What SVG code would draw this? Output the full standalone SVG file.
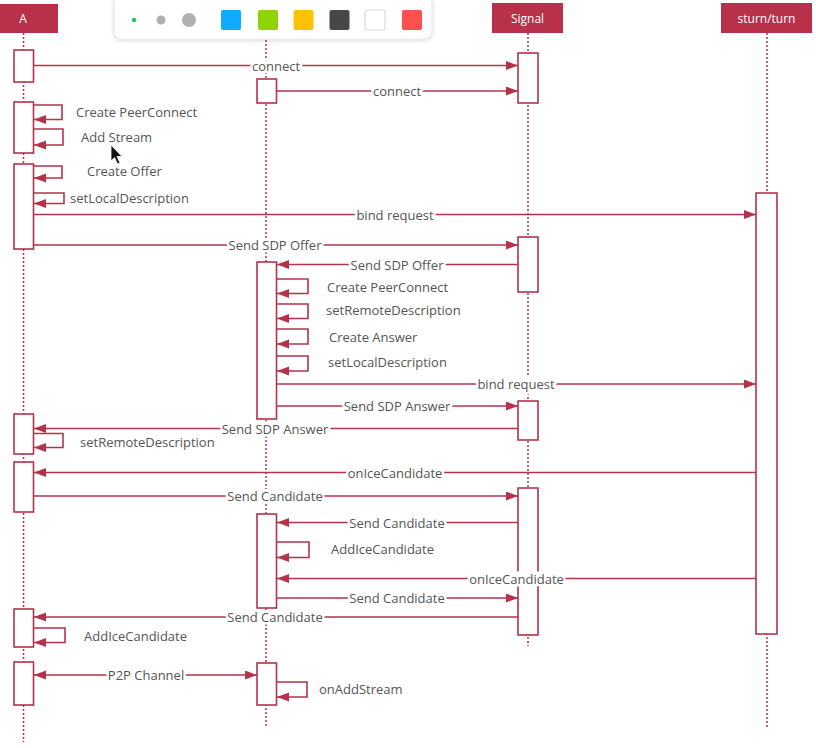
<svg xmlns="http://www.w3.org/2000/svg" width="816" height="748" viewBox="0 0 816 748">
<defs>
<marker id="ah" markerUnits="userSpaceOnUse" markerWidth="13" markerHeight="10" refX="12" refY="4.5" orient="auto">
<path d="M0,0 L12,4.5 L0,9 z" fill="#b3334b"/>
</marker>
<marker id="ahs" markerUnits="userSpaceOnUse" markerWidth="13" markerHeight="10" refX="12" refY="4.5" orient="auto-start-reverse">
<path d="M0,0 L12,4.5 L0,9 z" fill="#b3334b"/>
</marker>
<filter id="sh" x="-10%" y="-50%" width="120%" height="200%">
<feDropShadow dx="0" dy="1" stdDeviation="2" flood-color="#000" flood-opacity="0.15"/>
</filter>
</defs>
<style>
.hdr{fill:#b8304a}
.hdrt{fill:#fff;font-family:"Open Sans","Noto Sans",sans-serif;font-size:12px;text-anchor:middle}
.life{stroke:#b3334b;stroke-width:1.5;stroke-dasharray:2,2;fill:none}
.act{fill:#fff;stroke:#b3334b;stroke-width:1.6}
.msg{stroke:#b3334b;stroke-width:1.6;fill:none;marker-end:url(#ah)}
.bg{fill:#fff}
.lbl{font-family:"Open Sans","Noto Sans",sans-serif;font-size:13px;fill:#555;text-anchor:middle;dominant-baseline:central;paint-order:stroke;stroke:#fff;stroke-width:5px;stroke-linejoin:round}
.slbl{font-family:"Open Sans","Noto Sans",sans-serif;font-size:13px;fill:#555;dominant-baseline:central}
</style>
<rect width="816" height="748" fill="#fff"/>

<g id="A">
<rect class="hdr" x="-12" y="4" width="70" height="29"/>
<text class="hdrt" x="23" y="23">A</text>
<line class="life" x1="23.5" y1="33" x2="23.5" y2="742"/>
<rect class="act" x="14" y="50" width="19.5" height="32"/>
<rect class="act" x="14" y="102" width="19.5" height="51"/>
<rect class="act" x="14" y="164" width="19.5" height="85"/>
<rect class="act" x="14" y="414" width="19.5" height="40"/>
<rect class="act" x="14" y="462" width="19.5" height="50"/>
<rect class="act" x="14" y="609" width="19.5" height="38"/>
<rect class="act" x="14" y="662" width="19.5" height="43"/>
</g>

<g id="B">
<line class="life" x1="266" y1="36" x2="266" y2="728"/>
<rect class="act" x="257" y="79" width="19.5" height="24"/>
<rect class="act" x="257" y="262" width="19.5" height="157"/>
<rect class="act" x="257" y="514" width="19.5" height="94"/>
<rect class="act" x="257" y="663" width="19.5" height="42"/>
</g>

<g id="Signal">
<rect class="hdr" x="492" y="3" width="71" height="30"/>
<text class="hdrt" x="527.5" y="23">Signal</text>
<line class="life" x1="528" y1="33" x2="528" y2="646"/>
<rect class="act" x="518" y="53" width="20" height="50"/>
<rect class="act" x="518" y="237" width="20" height="55"/>
<rect class="act" x="518" y="401" width="20" height="39"/>
<rect class="act" x="518" y="488" width="20" height="147"/>
</g>

<g id="sturn-turn">
<rect class="hdr" x="721" y="3" width="91" height="30"/>
<text class="hdrt" x="766.5" y="23">sturn/turn</text>
<line class="life" x1="767" y1="33" x2="767" y2="727"/>
<rect class="act" x="756" y="193" width="21" height="441"/>
</g>

<g id="connectors">
<line class="msg" x1="33.5" y1="65.5" x2="518" y2="65.5"/>
<rect class="bg" x="251" y="58.5" width="50" height="14"/>
<text class="lbl" x="276" y="65.5">connect</text>
<line class="msg" x1="276.5" y1="91" x2="518" y2="91"/>
<rect class="bg" x="372" y="84" width="50" height="14"/>
<text class="lbl" x="397" y="91">connect</text>

<path class="msg" d="M33.5,105 H62 V119.5 H34"/>
<text class="slbl" x="76" y="112">Create PeerConnect</text>
<path class="msg" d="M33.5,129 H63 V145 H34"/>
<text class="slbl" x="81" y="137">Add Stream</text>
<path class="msg" d="M33.5,166 H62 V178 H34"/>
<text class="slbl" x="87" y="171">Create Offer</text>
<path class="msg" d="M33.5,193 H64 V203.5 H34"/>
<text class="slbl" x="70" y="198">setLocalDescription</text>

<line class="msg" x1="33.5" y1="214.5" x2="756" y2="214.5"/>
<rect class="bg" x="356" y="207.5" width="78" height="14"/>
<text class="lbl" x="395" y="214.5">bind request</text>
<line class="msg" x1="33.5" y1="245" x2="518" y2="245"/>
<rect class="bg" x="228" y="238" width="94" height="14"/>
<text class="lbl" x="275" y="245">Send SDP Offer</text>
<line class="msg" x1="518" y1="264.5" x2="277" y2="264.5"/>
<rect class="bg" x="350" y="257.5" width="94" height="14"/>
<text class="lbl" x="397" y="264.5">Send SDP Offer</text>

<path class="msg" d="M276.5,279 H308 V293.5 H277"/>
<text class="slbl" x="327" y="286.5">Create PeerConnect</text>
<path class="msg" d="M276.5,304 H308 V318.5 H277"/>
<text class="slbl" x="326" y="310">setRemoteDescription</text>
<path class="msg" d="M276.5,329 H308 V344 H277"/>
<text class="slbl" x="329" y="337">Create Answer</text>
<path class="msg" d="M276.5,356 H308 V371 H277"/>
<text class="slbl" x="328" y="362">setLocalDescription</text>

<line class="msg" x1="276.5" y1="384" x2="756" y2="384"/>
<rect class="bg" x="477" y="377" width="78" height="14"/>
<text class="lbl" x="516" y="384">bind request</text>
<line class="msg" x1="276.5" y1="406" x2="518" y2="406"/>
<rect class="bg" x="343" y="399" width="108" height="14"/>
<text class="lbl" x="397" y="406">Send SDP Answer</text>
<line class="msg" x1="518" y1="428.5" x2="34" y2="428.5"/>
<rect class="bg" x="221" y="421.5" width="108" height="14"/>
<text class="lbl" x="275" y="428.5">Send SDP Answer</text>
<path class="msg" d="M33.5,433.5 H63 V447.5 H34"/>
<text class="slbl" x="80" y="441.5">setRemoteDescription</text>

<line class="msg" x1="756" y1="472.5" x2="34" y2="472.5"/>
<rect class="bg" x="346.5" y="465.5" width="97" height="14"/>
<text class="lbl" x="395" y="472.5">onIceCandidate</text>
<line class="msg" x1="33.5" y1="496" x2="518" y2="496"/>
<rect class="bg" x="226" y="489" width="98" height="14"/>
<text class="lbl" x="275" y="496">Send Candidate</text>
<line class="msg" x1="518" y1="522.5" x2="277" y2="522.5"/>
<rect class="bg" x="348" y="515.5" width="98" height="14"/>
<text class="lbl" x="397" y="522.5">Send Candidate</text>
<path class="msg" d="M276.5,542 H309 V557.5 H277"/>
<text class="slbl" x="331" y="549">AddIceCandidate</text>
<line class="msg" x1="756" y1="578.5" x2="277" y2="578.5"/>
<rect class="bg" x="468" y="571.5" width="97" height="14"/>
<text class="lbl" x="516.5" y="578.5">onIceCandidate</text>
<line class="msg" x1="276.5" y1="598" x2="518" y2="598"/>
<rect class="bg" x="348" y="591" width="98" height="14"/>
<text class="lbl" x="397" y="598">Send Candidate</text>
<line class="msg" x1="518" y1="617" x2="34" y2="617"/>
<rect class="bg" x="226" y="610" width="98" height="14"/>
<text class="lbl" x="275" y="617">Send Candidate</text>
<path class="msg" d="M33.5,628 H65 V642.5 H34"/>
<text class="slbl" x="84" y="636">AddIceCandidate</text>

<line class="msg" x1="34" y1="675" x2="257" y2="675" style="marker-start:url(#ahs)"/>
<rect class="bg" x="108" y="668" width="76" height="14"/>
<text class="lbl" x="146" y="675">P2P Channel</text>
<path class="msg" d="M276.5,682 H307 V697 H277"/>
<text class="slbl" x="319" y="689">onAddStream</text>
</g>

<g id="toolbar">
<rect x="114" y="-6" width="318" height="45" rx="7" fill="#fff" stroke="#e6e6e6" stroke-width="1" filter="url(#sh)"/>
<circle cx="134" cy="20" r="2.2" fill="#1ec35a"/>
<circle cx="161" cy="20" r="4.5" fill="#b0b0b0"/>
<circle cx="189" cy="20" r="7" fill="#b0b0b0"/>
<rect x="221" y="10" width="20" height="20" rx="2" fill="#10aaff"/>
<rect x="258" y="10" width="20" height="20" rx="2" fill="#8fd300"/>
<rect x="293.5" y="10" width="20" height="20" rx="2" fill="#ffc200"/>
<rect x="329.5" y="10" width="20" height="20" rx="2" fill="#474747"/>
<rect x="365" y="10" width="20" height="20" rx="2" fill="#fff" stroke="#dcdcdc" stroke-width="1.2"/>
<rect x="402" y="10" width="20" height="20" rx="2" fill="#ff5050"/>
</g>

<path d="M111,145 L111,161 L114.5,157.5 L117.5,164 L120,163 L117,156.5 L122,156.5 Z" fill="#111" stroke="#fff" stroke-width="0.8"/>
</svg>
